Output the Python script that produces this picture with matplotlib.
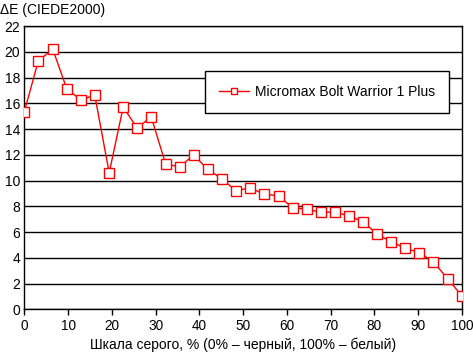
import matplotlib
matplotlib.use('Agg')
import matplotlib.pyplot as plt

# valeurs
gris = [0, 3.2, 6.5, 9.7, 12.9, 16.1, 19.4, 22.6, 25.8, 29.0, 32.3, 35.5, 38.7, 41.9,
        45.2, 48.4, 51.6, 54.8, 58.1, 61.3, 64.5, 67.7, 71.0, 74.2, 77.4, 80.6, 83.9,
        87.1, 90.3, 93.5, 96.8, 100]
delta_e = [15.34, 19.30, 20.21, 17.13, 16.27, 16.64, 10.61, 15.71, 14.08, 14.96, 11.28,
           11.07, 11.98, 10.89, 10.12, 9.21, 9.44, 8.95, 8.82, 7.89, 7.79, 7.55, 7.55,
           7.27, 6.80, 5.87, 5.23, 4.76, 4.40, 3.70, 2.35, 1.06]
nom = 'Micromax Bolt Warrior 1 Plus'

plt.rcParams['font.family'] = ['Liberation Sans', 'DejaVu Sans']
plt.rcParams['font.size'] = 10

fig = plt.figure(figsize=(4.73, 3.52), dpi=100)
ax = fig.add_axes([0.0514, 0.121, 0.925, 0.805])

ax.plot(gris, delta_e, color='red', linewidth=1, marker='s', markersize=6.5,
        markerfacecolor='white', markeredgecolor='red', markeredgewidth=1,
        label=nom, zorder=3)

ax.set_xlim(0, 100)
ax.set_ylim(0, 22)
ax.set_xticks(range(0, 101, 10))
ax.set_yticks(range(0, 23, 2))
ax.grid(axis='y', color='black', linewidth=1)
ax.set_axisbelow(True)
for s in ax.spines.values():
    s.set_linewidth(1)
ax.tick_params(axis='x', direction='out', length=4, width=1, pad=3, labelsize=9.8)
ax.tick_params(axis='y', length=0, pad=3)

ax.set_xlabel('Шкала серого, % (0% – черный, 100% – белый)', labelpad=3)
fig.text(0.0, 0.972, 'ΔE (CIEDE2000)', ha='left', va='center')

leg = ax.legend(loc='center', bbox_to_anchor=(0.691, 0.768), frameon=True,
                fancybox=False, framealpha=1, edgecolor='black',
                borderpad=1.0, handlelength=2.2, handletextpad=0.4,
                borderaxespad=0, markerscale=0.75)
leg.get_frame().set_linewidth(1)

fig.savefig('out.png', dpi=100)
